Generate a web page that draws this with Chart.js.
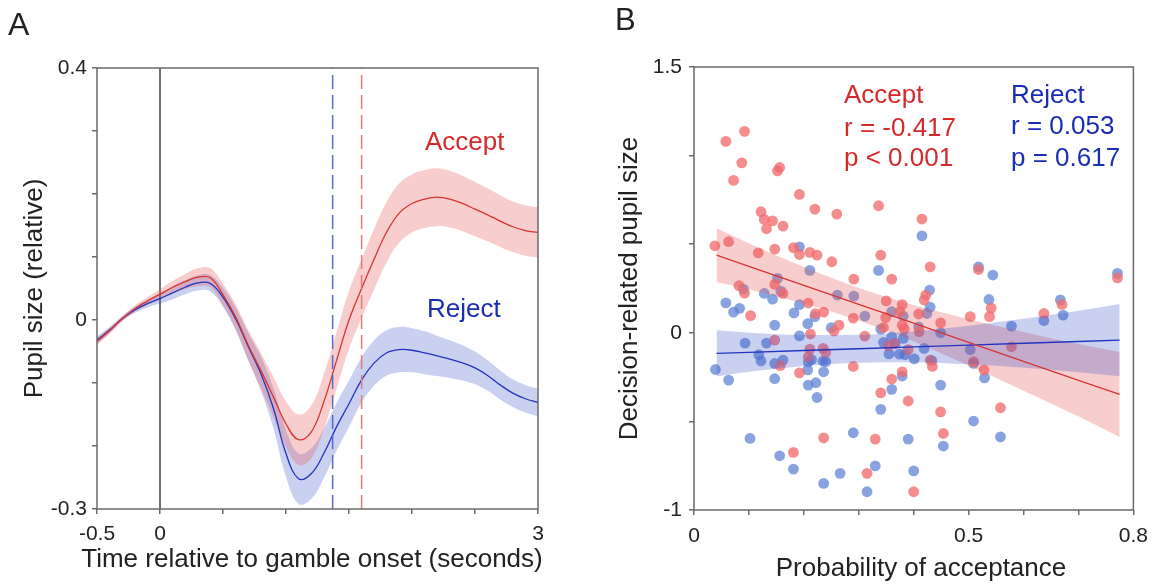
<!DOCTYPE html>
<html>
<head>
<meta charset="utf-8">
<script src="https://cdn.jsdelivr.net/npm/chart.js@4.4.1/dist/chart.umd.min.js"></script>
<style>
  html, body { margin: 0; padding: 0; background: #fff; }
  #wrap { position: relative; width: 1157px; height: 588px; overflow: hidden; }
  canvas { position: absolute; top: 0; }
  #panelA { left: 0; }
  #panelB { left: 580px; }
</style>
</head>
<body>
<div id="wrap">
  <canvas id="panelA" width="580" height="588"></canvas>
  <canvas id="panelB" width="577" height="588"></canvas>
</div>
<script>
// ---------- Panel A: pupil time course (mean ± SEM) ----------
const timeA = [-0.5, -0.4, -0.3, -0.2, -0.1, 0.0, 0.1, 0.2, 0.3, 0.4, 0.5, 0.6, 0.7, 0.8, 0.9, 1.0, 1.1, 1.2,
               1.3, 1.4, 1.5, 1.6, 1.7, 1.8, 1.9, 2.0, 2.1, 2.2, 2.3, 2.4, 2.5, 2.6, 2.7, 2.8, 2.9, 3.0];
const acceptMean = [-0.034, -0.017, 0.002, 0.018, 0.030, 0.041, 0.052, 0.061, 0.068, 0.067, 0.040, 0.005,
                    -0.040, -0.080, -0.122, -0.165, -0.190, -0.178, -0.130, -0.065, 0.000, 0.050, 0.097, 0.140,
                    0.170, 0.185, 0.192, 0.195, 0.192, 0.185, 0.176, 0.167, 0.157, 0.148, 0.142, 0.139];
const acceptSem = [0.006, 0.005, 0.004, 0.005, 0.006, 0.008, 0.010, 0.012, 0.014, 0.015, 0.017, 0.020,
                   0.024, 0.028, 0.032, 0.036, 0.040, 0.042, 0.044, 0.045, 0.046, 0.047, 0.048, 0.048,
                   0.047, 0.046, 0.046, 0.046, 0.045, 0.044, 0.043, 0.042, 0.041, 0.040, 0.040, 0.040];
const rejectMean = [-0.032, -0.016, 0.002, 0.016, 0.026, 0.034, 0.043, 0.052, 0.059, 0.058, 0.036, 0.002,
                    -0.042, -0.085, -0.140, -0.212, -0.252, -0.244, -0.212, -0.170, -0.133, -0.095, -0.068, -0.052,
                    -0.047, -0.048, -0.052, -0.057, -0.062, -0.068, -0.076, -0.088, -0.103, -0.116, -0.125, -0.131];
const rejectSem = [0.006, 0.005, 0.004, 0.005, 0.006, 0.008, 0.010, 0.011, 0.012, 0.013, 0.015, 0.018,
                   0.022, 0.027, 0.032, 0.037, 0.040, 0.040, 0.039, 0.038, 0.037, 0.036, 0.036, 0.036,
                   0.036, 0.035, 0.034, 0.032, 0.030, 0.028, 0.026, 0.024, 0.023, 0.022, 0.022, 0.022];
const rejectDecisionTime = 1.37;
const acceptDecisionTime = 1.60;
const timeTickLabels = [-0.5, 0, 3];
const pupilTickLabelsA = [-0.3, 0, 0.4];

// ---------- Panel B: decision-related pupil size vs. acceptance probability ----------
const acceptProb = [0.092, 0.058, 0.087, 0.072, 0.152, 0.156, 0.192, 0.220, 0.122, 0.128, 0.143, 0.132, 0.162,
  0.038, 0.063, 0.117, 0.147, 0.181, 0.192, 0.211, 0.224, 0.260, 0.336, 0.415, 0.251, 0.340, 0.430, 0.291,
  0.360, 0.082, 0.092, 0.147, 0.162, 0.103, 0.208, 0.221, 0.236, 0.264, 0.255, 0.290, 0.311, 0.212, 0.147,
  0.211, 0.208, 0.235, 0.240, 0.157, 0.192, 0.290, 0.181, 0.236, 0.345, 0.349, 0.375, 0.379, 0.383, 0.409,
  0.410, 0.449, 0.354, 0.365, 0.390, 0.430, 0.434, 0.379, 0.360, 0.340, 0.390, 0.449, 0.454, 0.330, 0.315,
  0.400, 0.518, 0.422, 0.419, 0.541, 0.538, 0.503, 0.350, 0.379, 0.509, 0.528, 0.637, 0.670, 0.578, 0.558, 0.771];
const acceptPupil = [1.137, 1.080, 0.959, 0.860, 0.914, 0.933, 0.781, 0.698, 0.683, 0.640, 0.632, 0.587, 0.602,
  0.491, 0.514, 0.451, 0.472, 0.480, 0.442, 0.454, 0.438, 0.670, 0.717, 0.642, 0.401, 0.438, 0.372, 0.303,
  0.303, 0.266, 0.224, 0.273, 0.222, 0.097, 0.168, 0.108, 0.117, 0.043, 0.010, 0.083, -0.019, -0.007, -0.041,
  -0.092, -0.135, -0.088, -0.111, -0.185, -0.226, -0.190, -0.675, -0.593, 0.029, 0.086, 0.119, 0.043, 0.021, 0.106,
  0.007, 0.056, -0.072, -0.060, -0.095, -0.154, -0.190, -0.220, -0.261, -0.339, -0.385, -0.446, -0.568, -0.600, -0.793,
  -0.897, 0.357, 0.213, 0.185, 0.139, 0.091, 0.091, 0.180, 0.159, -0.163, -0.210, 0.109, 0.160, -0.079, -0.423, 0.310];
const rejectProb = [0.192, 0.211, 0.152, 0.090, 0.128, 0.143, 0.158, 0.058, 0.072, 0.083, 0.192, 0.182, 0.261,
  0.291, 0.311, 0.220, 0.207, 0.147, 0.250, 0.192, 0.093, 0.132, 0.118, 0.122, 0.147, 0.162, 0.208, 0.214,
  0.235, 0.240, 0.039, 0.207, 0.236, 0.063, 0.147, 0.208, 0.222, 0.224, 0.102, 0.156, 0.181, 0.236, 0.336,
  0.415, 0.429, 0.424, 0.430, 0.360, 0.381, 0.340, 0.409, 0.449, 0.345, 0.360, 0.366, 0.381, 0.355, 0.374,
  0.384, 0.401, 0.419, 0.433, 0.379, 0.360, 0.340, 0.449, 0.290, 0.390, 0.454, 0.330, 0.266, 0.400, 0.315,
  0.503, 0.509, 0.529, 0.578, 0.637, 0.672, 0.667, 0.518, 0.544, 0.537, 0.509, 0.558, 0.771];
const rejectPupil = [0.485, 0.352, 0.307, 0.247, 0.222, 0.190, 0.235, 0.169, 0.117, 0.138, 0.159, 0.112, 0.213,
  0.207, 0.094, 0.091, 0.051, 0.043, 0.029, -0.017, -0.058, -0.058, -0.124, -0.159, -0.173, -0.154, -0.165, -0.151,
  -0.160, -0.163, -0.207, -0.209, -0.220, -0.267, -0.259, -0.295, -0.282, -0.365, -0.596, -0.694, -0.769, -0.850, 0.352,
  0.547, 0.241, 0.109, 0.145, 0.119, 0.094, 0.021, 0.034, 0.000, -0.054, -0.023, -0.060, -0.032, -0.119, -0.120,
  -0.123, -0.147, -0.088, -0.157, -0.244, -0.319, -0.432, -0.295, -0.564, -0.600, -0.639, -0.751, -0.793, -0.779, -0.897,
  -0.095, -0.173, -0.254, 0.038, 0.069, 0.100, 0.186, 0.372, 0.326, 0.188, -0.498, -0.587, 0.335];
// regression fits with 95% confidence bands
const fitProb = [0.041, 0.1, 0.2, 0.3, 0.4, 0.5, 0.6, 0.7, 0.775];
const acceptFit = [0.438, 0.375, 0.268, 0.161, 0.054, -0.054, -0.161, -0.268, -0.348];
const acceptCiLow = [0.286, 0.245, 0.165, 0.069, -0.049, -0.185, -0.327, -0.473, -0.588];
const acceptCiHigh = [0.590, 0.505, 0.371, 0.253, 0.157, 0.077, 0.005, -0.063, -0.108];
const rejectFit = [-0.116, -0.110, -0.100, -0.090, -0.079, -0.069, -0.059, -0.049, -0.041];
const rejectCiLow = [-0.246, -0.220, -0.187, -0.169, -0.166, -0.178, -0.197, -0.222, -0.245];
const rejectCiHigh = [0.014, 0.000, -0.013, -0.011, 0.008, 0.040, 0.079, 0.124, 0.163];
const acceptStats = ['Accept', 'r = -0.417', 'p < 0.001'];
const rejectStats = ['Reject', 'r = 0.053', 'p = 0.617'];
const probTickLabels = [0, 0.5, 0.8];
const pupilTickLabelsB = [-1, 0, 1.5];

// ---------- shared styling ----------
const FONT = '"Liberation Sans", Arial, Helvetica, sans-serif';
const TEXT = '#222';
const FRAME = '#6a6a6a';
const ACCEPT_LINE = '#d93434';
const REJECT_LINE = '#2234c0';
const ACCEPT_TEXT = '#d42a2a';
const REJECT_TEXT = '#1a2db5';
const ACCEPT_BAND = 'rgba(230, 90, 90, 0.30)';
const REJECT_BAND = 'rgba(60, 80, 200, 0.27)';

Chart.defaults.font.family = FONT;
Chart.defaults.color = TEXT;

const zip = (xs, ys) => xs.map((x, i) => ({ x, y: ys[i] }));
const plusMinus = (m, s, sign) => m.map((v, i) => v + sign * s[i]);

function linearAxis(min, max, step, shown, pad, fit) {
  return {
    type: 'linear', min, max,
    border: { display: false },
    grid: { drawOnChartArea: false, drawTicks: true, tickLength: 5, color: FRAME, lineWidth: 1.5 },
    ticks: {
      stepSize: step, padding: pad, color: TEXT, font: { size: 21 },
      autoSkip: false, maxRotation: 0,
      callback: v => shown.some(s => Math.abs(s - v) < 1e-6) ? String(+Number(v).toFixed(3)) : ''
    },
    afterFit: fit
  };
}

function drawFrame(chart) {
  const { ctx, chartArea: a } = chart;
  ctx.save();
  ctx.strokeStyle = FRAME;
  ctx.lineWidth = 1.5;
  ctx.strokeRect(a.left, a.top, a.right - a.left, a.bottom - a.top);
  ctx.restore();
}

function verticalTitle(ctx, text, x, y) {
  ctx.save();
  ctx.translate(x, y);
  ctx.rotate(-Math.PI / 2);
  ctx.textAlign = 'center';
  ctx.textBaseline = 'middle';
  ctx.fillText(text, 0, 0);
  ctx.restore();
}

// ---------- Panel A chart ----------
const panelADecor = {
  id: 'panelADecor',
  beforeDatasetsDraw(chart) {
    const { ctx, chartArea: a, scales: { x } } = chart;
    const x0 = x.getPixelForValue(0);
    ctx.save();
    ctx.strokeStyle = '#111';
    ctx.lineWidth = 1.2;
    ctx.beginPath();
    ctx.moveTo(x0, a.top);
    ctx.lineTo(x0, a.bottom);
    ctx.stroke();
    ctx.restore();
  },
  afterDatasetsDraw(chart) {
    const { ctx, chartArea: a, scales: { x } } = chart;
    [[rejectDecisionTime, '#5868cc'], [acceptDecisionTime, '#e27a7a']].forEach(([t, col]) => {
      const px = x.getPixelForValue(t);
      ctx.save();
      ctx.strokeStyle = col;
      ctx.lineWidth = 1.5;
      ctx.setLineDash([14, 6]);
      ctx.beginPath();
      ctx.moveTo(px, a.bottom);
      ctx.lineTo(px, a.top);
      ctx.stroke();
      ctx.restore();
    });
  },
  afterDraw(chart) {
    const { ctx, chartArea: a } = chart;
    drawFrame(chart);
    ctx.save();
    ctx.fillStyle = TEXT;
    ctx.textBaseline = 'alphabetic';
    ctx.textAlign = 'left';
    ctx.font = '32px ' + FONT;
    ctx.fillText('A', 8, 35);
    ctx.font = '26px ' + FONT;
    ctx.textAlign = 'center';
    ctx.fillText('Time relative to gamble onset (seconds)', 312, 567);
    verticalTitle(ctx, 'Pupil size (relative)', 35, (a.top + a.bottom) / 2);
    ctx.textAlign = 'left';
    ctx.fillStyle = ACCEPT_TEXT;
    ctx.fillText('Accept', 425, 150);
    ctx.fillStyle = REJECT_TEXT;
    ctx.fillText('Reject', 427, 317);
    ctx.restore();
  }
};

const smoothBand = { pointRadius: 0, borderWidth: 0, borderColor: 'rgba(0,0,0,0)', tension: 0.4 };
const fitBand = { pointRadius: 0, borderWidth: 0, borderColor: 'rgba(0,0,0,0)', cubicInterpolationMode: 'monotone' };

new Chart(document.getElementById('panelA'), {
  type: 'line',
  data: {
    datasets: [
      { ...smoothBand, data: zip(timeA, plusMinus(rejectMean, rejectSem, 1)), fill: false, order: 4 },
      { ...smoothBand, data: zip(timeA, plusMinus(rejectMean, rejectSem, -1)), fill: 0, backgroundColor: REJECT_BAND, order: 4 },
      { ...smoothBand, data: zip(timeA, plusMinus(acceptMean, acceptSem, 1)), fill: false, order: 3 },
      { ...smoothBand, data: zip(timeA, plusMinus(acceptMean, acceptSem, -1)), fill: 2, backgroundColor: ACCEPT_BAND, order: 3 },
      { data: zip(timeA, rejectMean), borderColor: REJECT_LINE, borderWidth: 1.3, pointRadius: 0, fill: false,
        tension: 0.4, order: 2 },
      { data: zip(timeA, acceptMean), borderColor: ACCEPT_LINE, borderWidth: 1.3, pointRadius: 0, fill: false,
        tension: 0.4, order: 1 }
    ]
  },
  options: {
    responsive: false, animation: false, devicePixelRatio: 1, events: [],
    layout: { padding: { left: 0, right: 42, top: 68, bottom: 0 } },
    plugins: { legend: { display: false }, tooltip: { enabled: false } },
    scales: {
      x: linearAxis(-0.5, 3, 0.5, timeTickLabels, 8, s => { s.height = 79; }),
      y: linearAxis(-0.3, 0.4, 0.1, pupilTickLabelsA, 5, s => { s.width = 97; })
    }
  },
  plugins: [panelADecor]
});

// ---------- Panel B chart ----------
const panelBDecor = {
  id: 'panelBDecor',
  afterDraw(chart) {
    const { ctx, chartArea: a } = chart;
    drawFrame(chart);
    ctx.save();
    ctx.fillStyle = TEXT;
    ctx.textBaseline = 'alphabetic';
    ctx.textAlign = 'left';
    ctx.font = '31px ' + FONT;
    ctx.fillText('B', 35, 30);
    ctx.font = '26px ' + FONT;
    ctx.textAlign = 'center';
    ctx.fillText('Probability of acceptance', 341, 576);
    verticalTitle(ctx, 'Decision-related pupil size', 50, (a.top + a.bottom) / 2);
    ctx.textAlign = 'left';
    const baselines = [103, 136, 166];
    ctx.fillStyle = ACCEPT_TEXT;
    acceptStats.forEach((t, i) => ctx.fillText(t, 264, baselines[i]));
    ctx.fillStyle = REJECT_TEXT;
    rejectStats.forEach((t, i) => ctx.fillText(t, 431, baselines[i] - (i === 1 ? 2 : 0)));
    ctx.restore();
  }
};

new Chart(document.getElementById('panelB'), {
  type: 'line',
  data: {
    datasets: [
      { type: 'scatter', data: zip(rejectProb, rejectPupil), pointRadius: 5.4, borderWidth: 0,
        backgroundColor: 'rgba(90, 128, 212, 0.72)', order: 6 },
      { type: 'scatter', data: zip(acceptProb, acceptPupil), pointRadius: 5.4, borderWidth: 0,
        backgroundColor: 'rgba(242, 108, 110, 0.78)', order: 5 },
      { ...fitBand, data: zip(fitProb, acceptCiHigh), fill: false, order: 4 },
      { ...fitBand, data: zip(fitProb, acceptCiLow), fill: 2, backgroundColor: ACCEPT_BAND, order: 4 },
      { ...fitBand, data: zip(fitProb, rejectCiHigh), fill: false, order: 3 },
      { ...fitBand, data: zip(fitProb, rejectCiLow), fill: 4, backgroundColor: REJECT_BAND, order: 3 },
      { data: zip(fitProb, acceptFit), borderColor: ACCEPT_LINE, borderWidth: 1.3, pointRadius: 0, fill: false, order: 1 },
      { data: zip(fitProb, rejectFit), borderColor: REJECT_LINE, borderWidth: 1.3, pointRadius: 0, fill: false, order: 1 }
    ]
  },
  options: {
    responsive: false, animation: false, devicePixelRatio: 1, events: [],
    layout: { padding: { left: 0, right: 16, top: 67, bottom: 0 } },
    plugins: { legend: { display: false }, tooltip: { enabled: false } },
    scales: {
      x: linearAxis(0, 0.8, 0.1, probTickLabels, 9, s => { s.height = 78; }),
      y: linearAxis(-1, 1.5, 0.5, pupilTickLabelsB, 7, s => { s.width = 114; })
    }
  },
  plugins: [panelBDecor]
});
</script>
</body>
</html>
